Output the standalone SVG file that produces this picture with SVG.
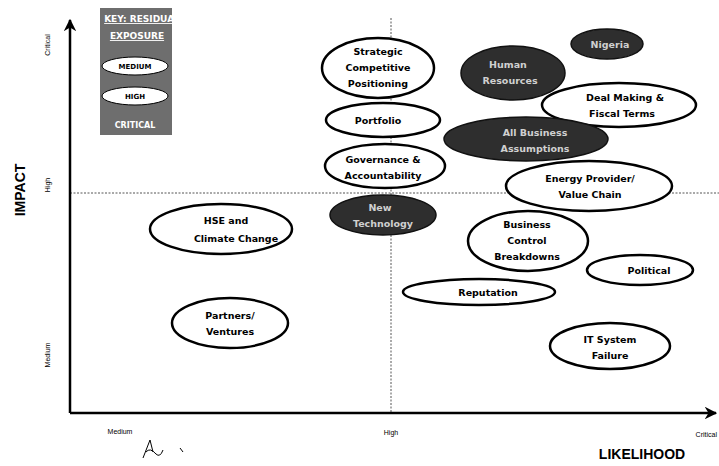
<svg xmlns="http://www.w3.org/2000/svg" width="719" height="466" viewBox="0 0 719 466">
<defs>
<style>
.n{fill:#fff;stroke:#000;stroke-width:2.5}
.d{fill:#2e2e2e;stroke:#111;stroke-width:1.5}
.t{font-family:"DejaVu Sans",sans-serif;font-weight:bold;font-size:9.5px;text-anchor:middle;fill:#000}
.w{font-family:"DejaVu Sans",sans-serif;font-weight:bold;font-size:9.5px;text-anchor:middle;fill:#d0d0d0}
.s{font-family:"Liberation Sans",Arial,sans-serif;font-size:7px;text-anchor:middle;fill:#000}
.b{font-family:"Liberation Sans",Arial,sans-serif;font-weight:bold;font-size:14px;text-anchor:middle;fill:#000}
.g{stroke:#555;stroke-width:1;stroke-dasharray:2 1.5;fill:none}
</style>
<marker id="ah" viewBox="0 0 10 10" refX="9" refY="5" markerWidth="5" markerHeight="5" orient="auto">
<path d="M0,0 L10,5 L0,10 L3,5 Z" fill="#000"/>
</marker>
</defs>
<rect width="719" height="466" fill="#fff"/>

<g id="connectors">
<line class="g" x1="391" y1="18" x2="391" y2="413"/>
<line class="g" x1="70" y1="193" x2="719" y2="193"/>
<line x1="70" y1="413" x2="70" y2="20" stroke="#000" stroke-width="2.5" marker-end="url(#ah)"/>
<line x1="70" y1="413" x2="716" y2="413" stroke="#000" stroke-width="2.5" marker-end="url(#ah)"/>
</g>

<g id="axis-labels">
<text class="b" transform="translate(25,190) rotate(-90)">IMPACT</text>
<text class="s" transform="translate(50,45) rotate(-90)">Critical</text>
<text class="s" transform="translate(50,185) rotate(-90)">High</text>
<text class="s" transform="translate(50,355) rotate(-90)">Medium</text>
<text class="s" x="120" y="434">Medium</text>
<text class="s" x="391" y="435">High</text>
<text class="s" x="717" y="437" style="text-anchor:end">Critical</text>
<text class="b" x="642" y="459">LIKELIHOOD</text>
<path d="M143,458 L150,440 L153,452 M146,452 Q150,447 156,454 Q160,458 163,450 M180,448 L183,452" fill="none" stroke="#000" stroke-width="1"/>
</g>

<g id="key">
<rect x="100" y="8" width="72" height="127" fill="#6e6e6e"/>
<text class="w" x="142" y="22" style="font-size:9px;text-decoration:underline;fill:#fff">KEY: RESIDUAL</text>
<text class="w" x="137" y="39" style="font-size:9px;text-decoration:underline;fill:#fff">EXPOSURE</text>
<ellipse cx="135" cy="66" rx="33" ry="9" fill="#fff" stroke="#000" stroke-width="1"/>
<text class="t" x="135" y="69" style="font-size:7px">MEDIUM</text>
<ellipse cx="135" cy="96" rx="33" ry="9" fill="#fff" stroke="#000" stroke-width="1"/>
<text class="t" x="135" y="99" style="font-size:7px">HIGH</text>
<text class="w" x="135" y="128" style="font-size:8px;fill:#fff">CRITICAL</text>
</g>

<g id="n-strategic">
<ellipse class="n" cx="378" cy="68" rx="56" ry="30"/>
<text class="t" x="378" y="55">Strategic</text>
<text class="t" x="378" y="71">Competitive</text>
<text class="t" x="378" y="87">Positioning</text>
</g>
<g id="n-portfolio">
<ellipse class="n" cx="383" cy="120" rx="57" ry="17"/>
<text class="t" x="378" y="124">Portfolio</text>
</g>
<g id="n-governance">
<ellipse class="n" cx="385" cy="166" rx="60" ry="22"/>
<text class="t" x="383" y="163">Governance &amp;</text>
<text class="t" x="383" y="179">Accountability</text>
</g>
<g id="n-human">
<ellipse class="d" cx="513" cy="73" rx="52" ry="27"/>
<text class="w" x="508" y="68">Human</text>
<text class="w" x="510" y="84">Resources</text>
</g>
<g id="n-nigeria">
<ellipse class="d" cx="607" cy="44" rx="36" ry="15"/>
<text class="w" x="610" y="48">Nigeria</text>
</g>
<g id="n-deal">
<ellipse class="n" cx="619" cy="105" rx="77" ry="22"/>
<text class="t" x="625" y="101">Deal Making &amp;</text>
<text class="t" x="622" y="117">Fiscal Terms</text>
</g>
<g id="n-assumptions">
<ellipse class="d" cx="526" cy="139" rx="82" ry="22"/>
<text class="w" x="535" y="136">All Business</text>
<text class="w" x="535" y="152">Assumptions</text>
</g>
<g id="n-energy">
<ellipse class="n" cx="589" cy="186" rx="83" ry="25"/>
<text class="t" x="590" y="182">Energy Provider/</text>
<text class="t" x="590" y="198">Value Chain</text>
</g>
<g id="n-newtech">
<ellipse class="d" cx="383" cy="215" rx="53" ry="20"/>
<text class="w" x="380" y="211">New</text>
<text class="w" x="383" y="227">Technology</text>
</g>
<g id="n-hse">
<ellipse class="n" cx="221" cy="229" rx="71" ry="25"/>
<text class="t" x="226" y="224">HSE and</text>
<text class="t" x="236" y="242">Climate Change</text>
</g>
<g id="n-business">
<ellipse class="n" cx="528" cy="241" rx="60" ry="30"/>
<text class="t" x="527" y="228">Business</text>
<text class="t" x="527" y="244">Control</text>
<text class="t" x="527" y="260">Breakdowns</text>
</g>
<g id="n-political">
<ellipse class="n" cx="640" cy="270" rx="53" ry="15"/>
<text class="t" x="649" y="274">Political</text>
</g>
<g id="n-reputation">
<ellipse class="n" cx="479" cy="292" rx="76" ry="13"/>
<text class="t" x="488" y="296">Reputation</text>
</g>
<g id="n-partners">
<ellipse class="n" cx="230" cy="323" rx="58" ry="25"/>
<text class="t" x="230" y="319">Partners/</text>
<text class="t" x="230" y="335">Ventures</text>
</g>
<g id="n-it">
<ellipse class="n" cx="610" cy="346" rx="60" ry="23"/>
<text class="t" x="610" y="343">IT System</text>
<text class="t" x="610" y="359">Failure</text>
</g>
</svg>
